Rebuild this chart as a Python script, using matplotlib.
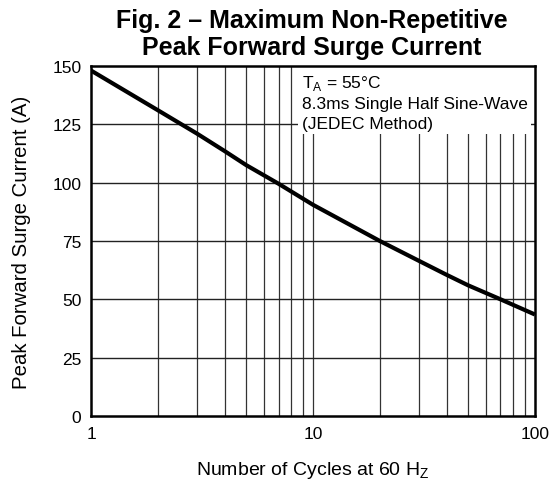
import matplotlib
matplotlib.use("Agg")
import matplotlib.pyplot as plt
from matplotlib.ticker import FixedLocator, NullFormatter, NullLocator

plt.rcParams["font.family"] = ["Liberation Sans", "DejaVu Sans"]
plt.rcParams["mathtext.fontset"] = "custom"
plt.rcParams["mathtext.rm"] = "Liberation Sans"

# Lectura aproximada de la curva en la figura original.
ciclos = [1, 2, 3, 4, 5, 7, 10, 20, 30, 40, 50, 70, 100]
corriente = [148, 131, 121, 113.5, 107.5, 99.5, 90.5, 75, 66.5, 60.5, 56, 50, 43.5]

y_ticks = [0, 25, 50, 75, 100, 125, 150]
x_ticks = [1, 10, 100]
x_labels = ["1", "10", "100"]
x_grid = [2, 3, 4, 5, 6, 7, 8, 9, 10, 20, 30, 40, 50, 60, 70, 80, 90]

fig = plt.figure(figsize=(5.56, 4.81), dpi=100)
ax = fig.add_axes([0.1637, 0.133, 0.7983, 0.728])

ax.set_xscale("log")
ax.set_xlim(1, 100)
ax.set_ylim(0, 150)

for x in x_grid:
    ax.axvline(x, color="#333333", lw=0.9, zorder=1)
for y in y_ticks[1:-1]:
    ax.axhline(y, color="#222222", lw=1.0, zorder=1)

ax.plot(ciclos, corriente, color="black", lw=3.0, zorder=3, solid_capstyle="butt")

ax.xaxis.set_major_locator(FixedLocator(x_ticks))
ax.xaxis.set_minor_locator(NullLocator())
ax.xaxis.set_minor_formatter(NullFormatter())
ax.set_xticks(x_ticks, x_labels)
ax.set_yticks(y_ticks)
ax.tick_params(axis="both", length=0, labelsize=12.5, pad=7)

for s in ax.spines.values():
    s.set_linewidth(1.8)
    s.set_zorder(5)

ax.text(0.475, 0.98,
        "T$_\\mathregular{A}$ = 55°C\n8.3ms Single Half Sine-Wave\n(JEDEC Method)",
        transform=ax.transAxes, ha="left", va="top", fontsize=12.5, linespacing=1.38,
        zorder=4,
        bbox=dict(boxstyle="square,pad=0.2", facecolor="white", edgecolor="none"))

ax.set_ylabel("Peak Forward Surge Current (A)", fontsize=14.7, va="center")
ax.yaxis.set_label_coords(-0.1565, 0.5)
ax.set_xlabel("Number of Cycles at 60 H$_\\mathregular{Z}$", fontsize=14, va="center")
ax.xaxis.set_label_coords(0.5, -0.152)

fig.text(0.56, 1 - 28 / 481, "Fig. 2 \u2013 Maximum Non-Repetitive",
         ha="center", va="baseline", fontsize=18, fontweight="bold")
fig.text(0.56, 1 - 55 / 481, "Peak Forward Surge Current",
         ha="center", va="baseline", fontsize=18, fontweight="bold")

fig.savefig("out.png", dpi=100)
